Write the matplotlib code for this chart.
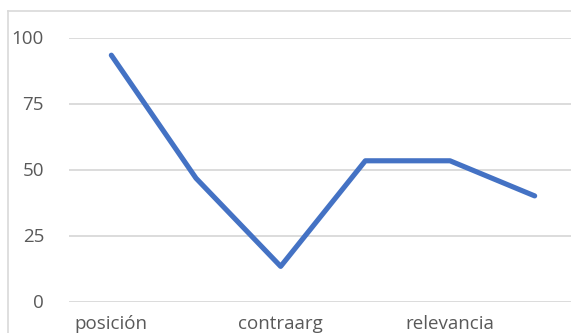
import matplotlib
matplotlib.use("Agg")
import matplotlib.pyplot as plt
from matplotlib.lines import Line2D

# Datos del gráfico (solo se ven etiquetas alternas, como en Excel)
categorias = ["posición", "argumentos", "contraarg", "refutación", "relevancia", "conclusión"]
valores = [93.3, 46.7, 13.3, 53.3, 53.3, 40.0]
yticks = [0, 25, 50, 75, 100]

plt.rcParams['font.family'] = ['Open Sans', 'DejaVu Sans']

W, H = 571, 333
fig = plt.figure(figsize=(W / 100, H / 100), dpi=100)

# el área de trazado se sale un poco por la derecha (imagen recortada)
ax = fig.add_axes([69 / W, (H - 301.5) / H, 508 / W, 264 / H])

x = list(range(len(categorias)))
ax.plot(x, valores, color='#4472C4', linewidth=3.7, solid_capstyle='round',
        solid_joinstyle='round', zorder=3)

ax.set_xlim(-0.5, len(categorias) - 0.5)
ax.set_ylim(0, 100)
ax.set_yticks(yticks)
ax.set_yticklabels([str(v) for v in yticks])
ax.set_xticks(x[::2])
ax.set_xticklabels(categorias[::2])

ax.grid(axis='y', color='#d9d9d9', linewidth=1.3)
ax.set_axisbelow(True)
for s in ax.spines.values():
    s.set_visible(False)
ax.tick_params(axis='both', length=0, labelsize=13.5, colors='#595959')
ax.tick_params(axis='y', pad=18)
ax.tick_params(axis='x', pad=10)

# borde del área del gráfico
fig.add_artist(Line2D([8 / W, 8 / W], [0, (H - 11) / H], color='#d9d9d9', linewidth=1.2))
fig.add_artist(Line2D([8 / W, 1], [(H - 11) / H, (H - 11) / H], color='#d9d9d9', linewidth=1.2))

fig.savefig('out.png', dpi=100, facecolor='white')
